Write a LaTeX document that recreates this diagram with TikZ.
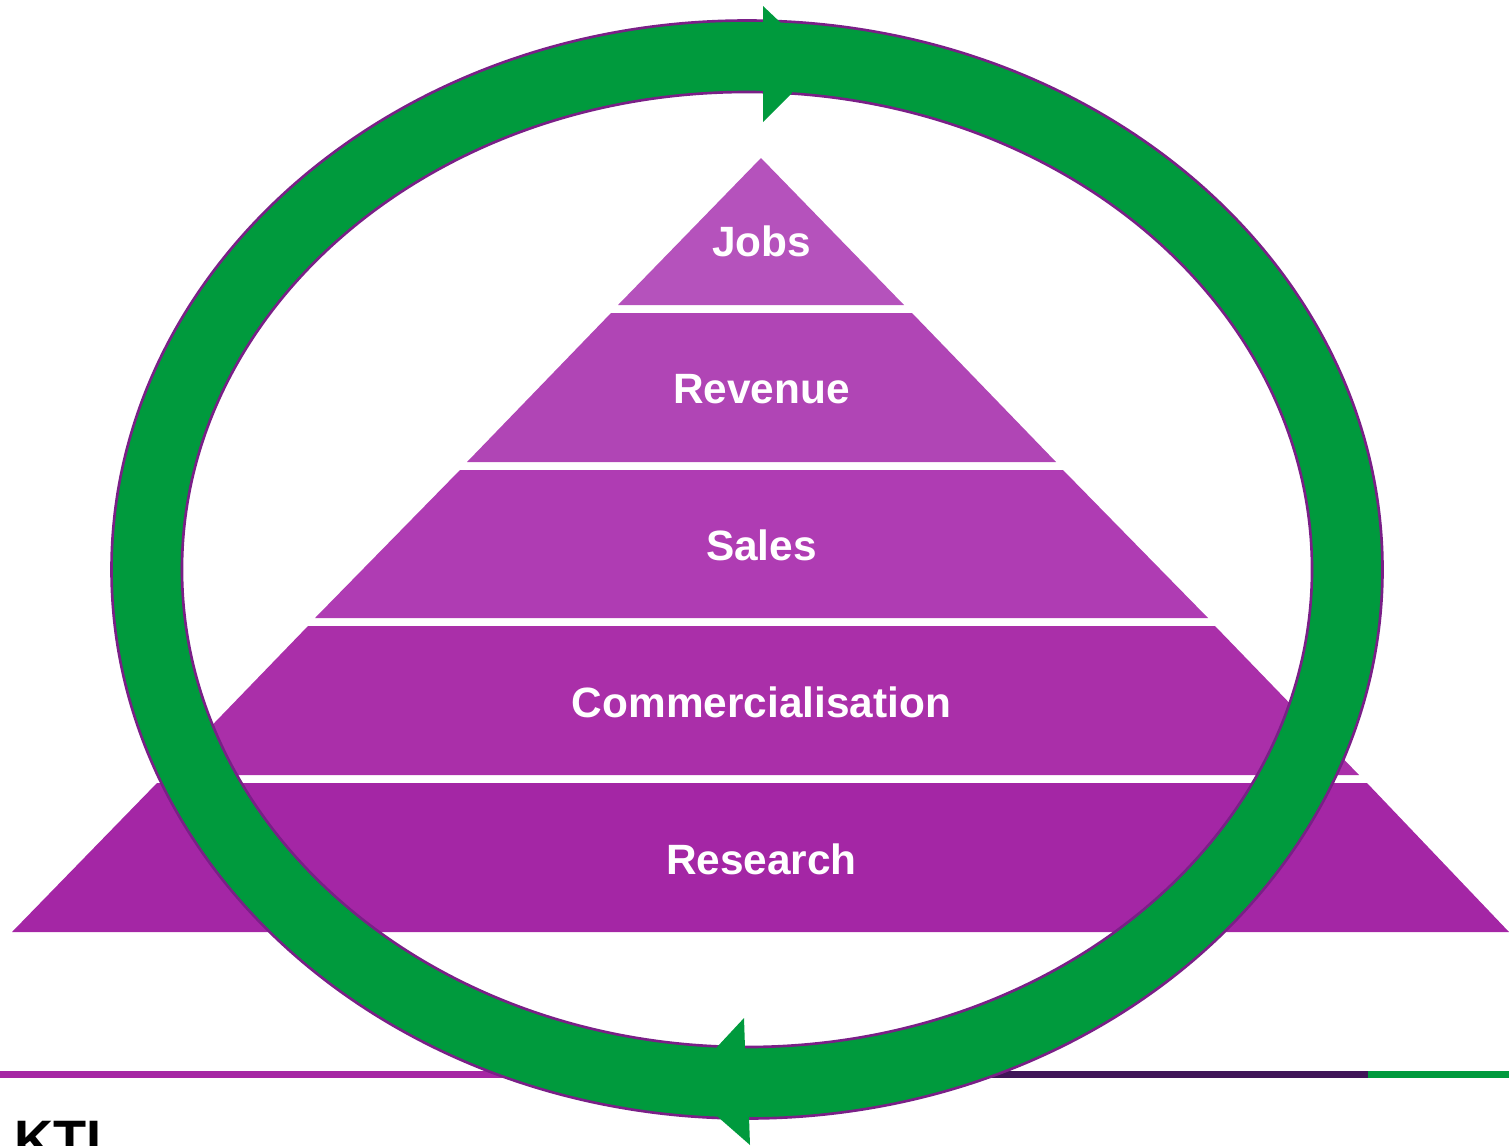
\documentclass[tikz,border=0pt]{standalone}
\usepackage{fontspec}
\setmainfont{Liberation Sans}
\definecolor{ringgreen}{HTML}{009A3D}
\definecolor{ringedge}{HTML}{7A1F87}
\definecolor{barpurple}{HTML}{A626A4}
\definecolor{bardark}{HTML}{3F1558}
\definecolor{tierone}{HTML}{A426A5}
\definecolor{tiertwo}{HTML}{AA2FA9}
\definecolor{tierthree}{HTML}{AF3CB3}
\definecolor{tierfour}{HTML}{B045B5}
\definecolor{tierfive}{HTML}{B552BC}
\tikzset{
	tierlabel/.style={text=white,font=\bfseries\fontsize{12.05}{14}\selectfont,inner sep=0pt},
	ring/.style={fill=ringgreen,draw=ringedge,line width=0.75pt,even odd rule},
}
\begin{document}
\begin{tikzpicture}[x=0.01cm,y=-0.01cm]
	\useasboundingbox (0,0) rectangle (1509,1145);
	
	\fill[tierone] (157,783) -- (1367,783) -- (1509,932) -- (12,932) -- cycle;
	\fill[tiertwo] (308,626) -- (1215,626) -- (1359,775) -- (164,775) -- cycle;
	\fill[tierthree] (460,470) -- (1063,470) -- (1208,618) -- (315,618) -- cycle;
	\fill[tierfour] (611,313) -- (912,313) -- (1056,462) -- (467,462) -- cycle;
	\fill[tierfive] (761,158) -- (904,305) -- (618,305) -- cycle;
	
	\node[tierlabel] (jobs) at (761.5,241) {Jobs};
	\node[tierlabel] (revenue) at (761.5,389) {Revenue};
	\node[tierlabel] (sales) at (761.5,545) {Sales};
	\node[tierlabel] (comm) at (761.5,702) {Commercialisation};
	\node[tierlabel] (research) at (761.5,859) {Research};
	
	\fill[barpurple] (0,1071) rectangle (520,1078);
	\fill[bardark] (520,1071) rectangle (1368,1078);
	\fill[ringgreen] (1368,1071) rectangle (1509,1078);
	\node[anchor=north west,inner sep=0pt,font=\bfseries\fontsize{15.4}{18}\selectfont] (kti) at (14,1121) {KTI};
	
	\draw[ring] (747,569.5) ellipse [x radius=635.5,y radius=549] (747,569.5) ellipse [x radius=565,y radius=477.5];
	% arrow heads
	\fill[ringgreen] (763,6) -- (781,23) -- (800,60) -- (792,93) -- (763,122) -- cycle;
	\fill[ringgreen] (744,1018) -- (717,1047) -- (700,1085) -- (718,1117) -- (750,1145) -- (749,1117) -- (770,1085) -- (745,1048) -- cycle;
\end{tikzpicture}
\end{document}
